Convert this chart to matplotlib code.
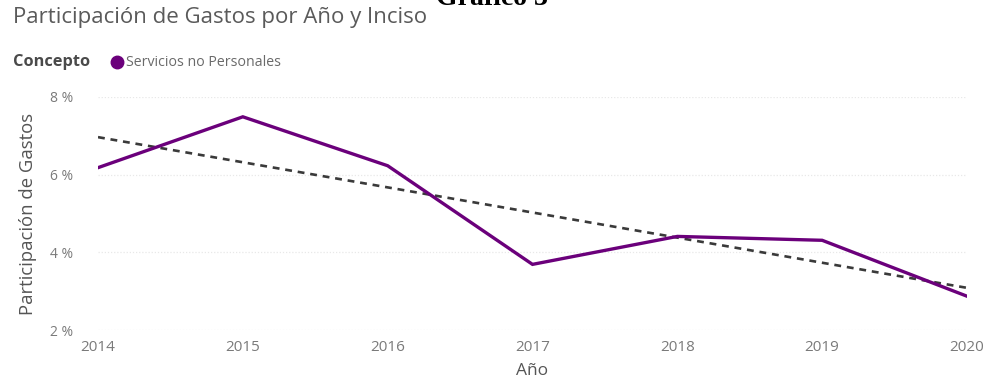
import numpy as np
import matplotlib
matplotlib.use("Agg")
import matplotlib.pyplot as plt
from matplotlib.lines import Line2D
from matplotlib.ticker import FuncFormatter

# Participación de gastos (%) del concepto "Servicios no Personales"
years = [2014, 2015, 2016, 2017, 2018, 2019, 2020]
participacion = [6.18, 7.49, 6.23, 3.69, 4.41, 4.31, 2.87]
y_ticks = [2, 4, 6, 8]

purple = "#6B007B"
grey_text = "#5A5A5A"
font = ["Open Sans", "DejaVu Sans"]

fig = plt.figure(figsize=(9.83, 3.83), dpi=100)
ax = fig.add_axes([98 / 983, 1 - 330 / 383, 869 / 983, 233 / 383])

# serie principal
ax.plot(years, participacion, color=purple, lw=2.4, solid_joinstyle="miter",
        zorder=3)

# línea de tendencia (ajuste lineal)
coef = np.polyfit(years, participacion, 1)
trend = np.polyval(coef, years)
ax.plot(years, trend, color="#3A3A3A", lw=1.9, ls=(0, (2.6, 2.2)), zorder=2)

ax.set_xlim(years[0], years[-1])
ax.set_ylim(y_ticks[0], y_ticks[-1])
ax.set_yticks(y_ticks)
ax.set_xticks(years)
ax.yaxis.set_major_formatter(FuncFormatter(lambda v, p: f"{v:.0f} %"))

for s in ax.spines.values():
    s.set_visible(False)
ax.tick_params(length=0, colors="#7A7A7A", labelsize=11)
ax.tick_params(axis="x", pad=7)
ax.tick_params(axis="y", pad=18, labelsize=10)
for lbl in ax.get_xticklabels() + ax.get_yticklabels():
    lbl.set_fontfamily(font)
ax.grid(axis="y", color="#E8E8E8", lw=0.9, ls=(0, (1, 1.5)))
ax.set_axisbelow(True)

ax.set_xlabel("Año", fontsize=12.5, color="#555555", family=font)
ax.xaxis.set_label_coords(0.5, -(371 - 330) / 233)
ax.xaxis.label.set_va("center")
ax.set_ylabel("Participación de Gastos", fontsize=13.3, color="#555555",
              family=font)
ax.yaxis.set_label_coords(-(98 - 28) / 869, 0.5)
ax.yaxis.label.set_va("center")

# encabezados
fig.text(13 / 983, 1 - 18 / 383, "Participación de Gastos por Año y Inciso",
         fontsize=16, color=grey_text, family=font, va="center", ha="left")
fig.text(13 / 983, 1 - 62 / 383, "Concepto", fontsize=11.8, color="#4A4A4A",
         family=font, weight="bold", va="center", ha="left")
fig.add_artist(Line2D([117 / 983], [1 - 62 / 383], marker="o", ms=9,
                      color=purple, transform=fig.transFigure))
fig.text(126 / 983, 1 - 62 / 383, "Servicios no Personales", fontsize=10.2,
         color="#6A6A6A", family=font, va="center", ha="left")
fig.text(492 / 983, 1 - 5 / 383, "Gráfico 3", fontsize=20, color="black",
         family=["Liberation Serif", "DejaVu Serif"], weight="bold",
         va="baseline", ha="center")

fig.savefig("out.png", dpi=100)
